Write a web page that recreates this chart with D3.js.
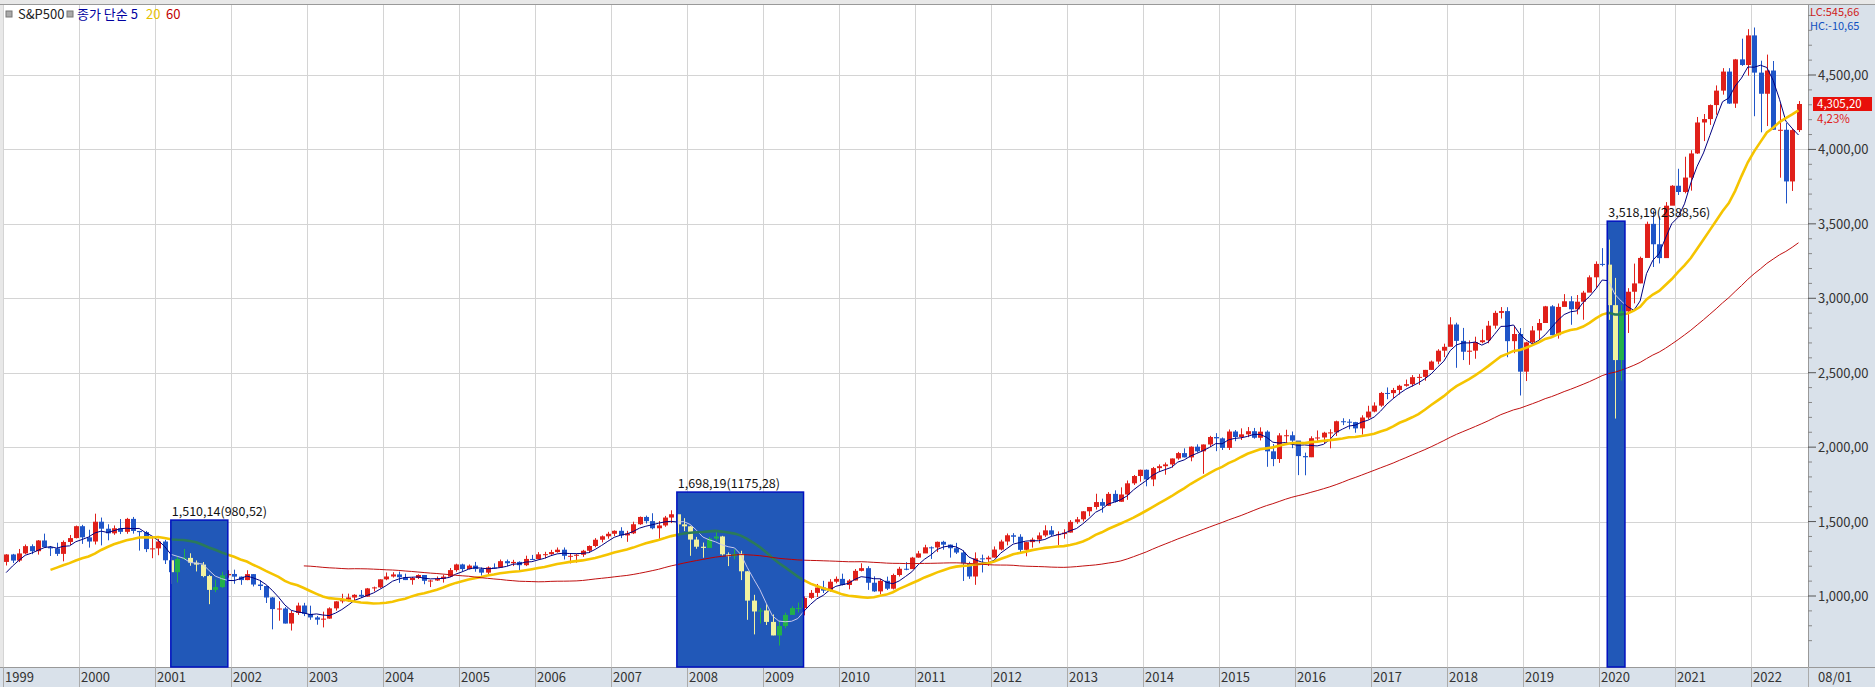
<!DOCTYPE html>
<html><head><meta charset="utf-8">
<script src="https://cdn.jsdelivr.net/npm/d3@7"></script>
<style>body{margin:0;background:#fff}svg{display:block;font-family:"Noto Sans CJK KR","Noto Sans",sans-serif}</style>
</head><body><svg id="c" width="1875" height="687"></svg>
<script>
// monthly S&P500, Jan 1998 .. Aug 2022
const closes1998 = [980,1049,1101,1111,1090,1133,1120,957,1017,1098,1163,1229];
const years = [1999,2000,2001,2002,2003,2004,2005,2006,2007,2008,2009,2010,2011,2012,2013,2014,2015,2016,2017,2018,2019,2020,2021,2022];
const closeByYear = [
[1279,1238,1286,1335,1301,1373,1329,1320,1283,1363,1389,1469],
[1394,1366,1499,1452,1421,1455,1431,1518,1437,1429,1315,1320],
[1366,1240,1160,1249,1256,1224,1211,1134,1041,1060,1139,1148],
[1130,1107,1147,1077,1067,990,912,916,815,886,936,880],
[856,841,848,917,964,975,990,1008,996,1051,1058,1112],
[1131,1145,1126,1107,1121,1141,1102,1104,1115,1130,1174,1212],
[1181,1204,1181,1157,1192,1191,1234,1220,1229,1207,1249,1248],
[1280,1281,1295,1311,1270,1270,1277,1304,1336,1378,1401,1418],
[1438,1407,1421,1482,1531,1503,1455,1474,1527,1549,1481,1468],
[1379,1331,1323,1386,1400,1280,1267,1283,1166,969,896,903],
[826,735,798,873,919,919,987,1021,1057,1036,1096,1115],
[1074,1104,1169,1187,1089,1031,1102,1049,1141,1183,1181,1258],
[1286,1327,1326,1364,1345,1321,1292,1219,1131,1253,1247,1258],
[1312,1366,1408,1398,1310,1362,1379,1407,1441,1412,1416,1426],
[1498,1515,1569,1598,1631,1606,1686,1633,1682,1757,1806,1848],
[1783,1859,1872,1884,1924,1960,1931,2003,1972,2018,2068,2059],
[1995,2105,2068,2086,2107,2063,2104,1972,1920,2079,2080,2044],
[1940,1932,2060,2065,2097,2099,2174,2171,2168,2126,2199,2239],
[2279,2364,2363,2384,2412,2423,2470,2472,2519,2575,2648,2674],
[2824,2714,2641,2648,2705,2718,2816,2902,2914,2712,2760,2507],
[2704,2784,2834,2946,2752,2942,2980,2926,2977,3038,3141,3231],
[3226,2954,2585,2912,3044,3100,3271,3500,3363,3270,3622,3756],
[3714,3811,3973,4181,4204,4298,4395,4523,4308,4605,4567,4766],
[4516,4374,4530,4132,4132,3785,4130,4305.2]];
const highByYear = [
[1281,1283,1316,1346,1347,1376,1419,1336,1358,1373,1410,1473],
[1478,1445,1553,1527,1482,1474,1517,1525,1531,1437,1437,1389],
[1384,1377,1263,1269,1316,1287,1239,1228,1142,1111,1163,1173],
[1177,1131,1173,1147,1106,1070,993,965,925,900,955,954],
[935,866,895,924,965,1015,1016,1012,1040,1054,1063,1112],
[1158,1160,1164,1150,1128,1146,1140,1109,1131,1143,1188,1217],
[1217,1212,1229,1192,1199,1219,1245,1245,1243,1233,1271,1276],
[1295,1297,1310,1326,1326,1284,1282,1310,1340,1389,1407,1431],
[1441,1462,1438,1499,1534,1540,1556,1503,1538,1576,1545,1523],
[1471,1397,1359,1397,1441,1404,1293,1314,1304,1167,1008,919],
[944,876,833,888,931,956,997,1040,1081,1102,1113,1131],
[1150,1113,1181,1220,1200,1132,1115,1130,1150,1196,1227,1263],
[1303,1344,1333,1366,1371,1346,1357,1307,1230,1293,1278,1270],
[1333,1378,1420,1422,1415,1363,1392,1427,1475,1470,1434,1448],
[1510,1531,1570,1598,1687,1654,1698,1710,1730,1776,1813,1849],
[1850,1867,1884,1897,1924,1968,1992,2005,2019,2018,2076,2094],
[2065,2119,2115,2126,2135,2129,2133,2113,2021,2094,2117,2105],
[2038,1963,2073,2112,2103,2120,2178,2194,2188,2170,2214,2278],
[2301,2371,2401,2398,2419,2454,2484,2491,2519,2582,2658,2695],
[2873,2836,2801,2717,2742,2791,2848,2916,2941,2940,2815,2800],
[2708,2813,2861,2949,2954,2965,3028,3014,3022,3050,3154,3248],
[3337,3394,3137,2955,3068,3233,3280,3515,3588,3550,3646,3760],
[3870,3951,3995,4218,4238,4302,4430,4546,4546,4608,4744,4808],
[4819,4596,4637,4594,4308,4178,4141,4325]];
const lowByYear = [
[1205,1222,1228,1281,1281,1278,1325,1269,1269,1233,1343,1387],
[1350,1325,1346,1340,1374,1411,1416,1418,1419,1305,1295,1254],
[1274,1215,1081,1091,1245,1203,1165,1126,945,1026,1054,1123],
[1082,1075,1106,1064,1040,953,776,834,815,768,873,865],
[840,807,789,847,902,951,961,960,988,995,1031,1053],
[1106,1124,1088,1107,1076,1114,1079,1060,1101,1090,1127,1163],
[1164,1180,1163,1137,1146,1188,1191,1201,1201,1169,1201,1243],
[1245,1253,1277,1291,1245,1219,1224,1263,1290,1327,1360,1385],
[1403,1389,1364,1416,1478,1487,1448,1371,1465,1490,1407,1436],
[1270,1317,1257,1322,1373,1272,1201,1247,1107,840,742,815],
[805,736,667,784,880,889,870,979,993,1020,1029,1085],
[1071,1045,1105,1165,1041,1028,1011,1040,1044,1131,1173,1181],
[1257,1294,1249,1295,1311,1258,1282,1101,1115,1075,1158,1202],
[1258,1306,1340,1357,1292,1267,1325,1354,1397,1403,1343,1385],
[1426,1485,1501,1536,1581,1560,1605,1628,1633,1646,1746,1768],
[1737,1738,1834,1815,1862,1915,1931,1905,1964,1821,2001,1973],
[1981,1981,2040,2048,2067,2057,2045,1868,1872,1894,2019,1993],
[1812,1811,1933,2038,2025,1992,2075,2148,2120,2097,2084,2188],
[2234,2271,2322,2329,2353,2406,2407,2418,2446,2520,2557,2605],
[2683,2533,2585,2553,2594,2698,2698,2796,2864,2604,2631,2347],
[2444,2682,2722,2848,2751,2729,2952,2822,2892,2856,3051,3070],
[3215,2855,2192,2447,2767,2966,3101,3284,3210,3234,3280,3633],
[3694,3705,3723,3970,4056,4165,4233,4368,4306,4279,4561,4495],
[4223,4115,4157,4131,3810,3637,3721,4117]];
const yTicks = [1000,1500,2000,2500,3000,3500,4000,4500];
const maPeriods = [5,20,60];
const boxFrom = ["2001-03-16","2007-11-13","2020-02-10"];
const boxTo   = ["2001-12-16","2009-07-13","2020-05-04"];
const boxTop  = [1510.14,1698.19,3518.19];
const boxText = ["1,510,14(980,52)","1,698,19(1175,28)","3,518,19(2388,56)"];

const W=1875,H=687,L=3,R=1808,T=5,B=667;
const svg=d3.select("#c");
const allClose=closes1998.concat(...closeByYear);
const highs=[].concat(...highByYear), lows=[].concat(...lowByYear);
const first=12, n=allClose.length;
const x=d3.scaleLinear().domain([first,first+285]).range([L,R]);
const y=d3.scaleLinear().domain([1000,4500]).range([596,75]);
const monthIdx=s=>{const [yy,mm,dd]=s.split("-").map(Number);return (yy-1998)*12+(mm-1)+(dd-1)/30;};
const bars=d3.range(first,n).map(i=>({i,o:allClose[i-1],c:allClose[i],h:highs[i-first],l:lows[i-first]}));
const mas=maPeriods.map(p=>d3.range(p-1,n).map(i=>({i,v:d3.mean(allClose.slice(i-p+1,i+1))})).filter(d=>d.i>=first));

svg.append("rect").attr("width",W).attr("height",H).attr("fill","#e8e8e8");
svg.append("rect").attr("x",L).attr("y",T).attr("width",R-L).attr("height",B-T).attr("fill","#fff");
svg.append("rect").attr("x",R).attr("y",T).attr("width",W-R).attr("height",B-T).attr("fill","#d9e1ea");
svg.append("rect").attr("x",0).attr("y",B).attr("width",W).attr("height",H-B).attr("fill","#d9e1ea");
const defs=svg.append("defs");
defs.append("clipPath").attr("id","plot").append("rect").attr("x",L).attr("y",T).attr("width",R-L).attr("height",B-T);
svg.append("g").selectAll("line").data(yTicks).join("line").attr("x1",L).attr("x2",R).attr("y1",d=>Math.round(y(d))+.5).attr("y2",d=>Math.round(y(d))+.5).attr("stroke","#d4d4d4");
const yearIdx=years.map((yy,k)=>first+k*12);
svg.append("g").selectAll("line").data(yearIdx).join("line").attr("x1",d=>Math.round(x(d))+.5).attr("x2",d=>Math.round(x(d))+.5).attr("y1",T).attr("y2",B).attr("stroke","#d4d4d4");
const xa=svg.append("g");
xa.append("line").attr("x1",0).attr("x2",W).attr("y1",B+.5).attr("y2",B+.5).attr("stroke","#999");
xa.selectAll("line.d").data(yearIdx.concat([first+285])).join("line").attr("class","d").attr("x1",d=>Math.round(x(d))+.5).attr("x2",d=>Math.round(x(d))+.5).attr("y1",B).attr("y2",H).attr("stroke","#aaa");
xa.selectAll("text").data(years).join("text").attr("x",(d,k)=>x(yearIdx[k])+2).attr("y",682).attr("font-size",13).attr("fill","#333").text(d=>d);
xa.append("text").attr("x",1818).attr("y",682).attr("font-size",13).attr("fill","#333").text("08/01");
svg.append("line").attr("x1",R+.5).attr("x2",R+.5).attr("y1",T).attr("y2",B).attr("stroke","#999");
const ra=svg.append("g");
const minor=d3.range(700,5000,100).filter(v=>v%500!==0);
ra.selectAll("line.m").data(minor).join("line").attr("class","m").attr("x1",R).attr("x2",R+4).attr("y1",d=>y(d)).attr("y2",d=>y(d)).attr("stroke","#888");
ra.selectAll("line.t").data(yTicks).join("line").attr("class","t").attr("x1",R).attr("x2",R+8).attr("y1",d=>y(d)).attr("y2",d=>y(d)).attr("stroke","#555");
ra.selectAll("text").data(yTicks).join("text").attr("x",R+10).attr("y",d=>y(d)+5).attr("font-size",13).attr("fill","#333").text(d=>d3.format(",")(d)+",00");
svg.append("line").attr("x1",0).attr("x2",W).attr("y1",T-.5).attr("y2",T-.5).attr("stroke","#999");

const plot=svg.append("g").attr("clip-path","url(#plot)");
function drawAll(g,alt){
  const line=d3.line().x(d=>x(d.i+.5)).y(d=>y(d.v));
  const cols=alt?["#c8c8ec","#2a7a5a","#c00000"]:["#000080","#f5c400","#c01010"];
  const widths=[1,2.6,1];
  const cg=g.append("g");
  const col=d=>d.c>=d.o?(alt?"#22b04a":"#e0201a"):(alt?"#f2f2a0":"#1f55c8");
  cg.selectAll("line").data(bars).join("line").attr("x1",d=>Math.round(x(d.i+.5))+.5).attr("x2",d=>Math.round(x(d.i+.5))+.5).attr("y1",d=>y(d.h)).attr("y2",d=>y(d.l)).attr("stroke",col);
  cg.selectAll("rect").data(bars).join("rect").attr("x",d=>Math.round(x(d.i+.5))-2).attr("width",5)
    .attr("y",d=>y(Math.max(d.o,d.c))).attr("height",d=>Math.max(1,Math.abs(y(d.o)-y(d.c)))).attr("fill",col);
  [0,1,2].forEach(k=>g.append("path").datum(mas[k]).attr("d",line).attr("fill","none").attr("stroke",cols[k]).attr("stroke-width",widths[k]));
}
drawAll(plot,false);
boxFrom.forEach((f,k)=>{
  const x0=x(monthIdx(f)),x1=x(monthIdx(boxTo[k])),y0=y(boxTop[k]);
  defs.append("clipPath").attr("id","bx"+k).append("rect").attr("x",x0+1).attr("y",y0+1).attr("width",x1-x0-2).attr("height",B-y0-1);
  svg.append("rect").attr("x",x0).attr("y",y0).attr("width",x1-x0).attr("height",B-y0).attr("fill","#2158b8").attr("stroke","#0010c0").attr("stroke-width",1.5);
  drawAll(svg.append("g").attr("clip-path","url(#bx"+k+")"),true);
  svg.append("text").attr("x",x0+1).attr("y",y0-4).attr("font-size",12.5).attr("fill","#111").text(boxText[k]);
});
const lg=svg.append("g").attr("font-size",13);
lg.append("rect").attr("x",6).attr("y",11).attr("width",6).attr("height",6).attr("fill","#aaa").attr("stroke","#777");
lg.append("text").attr("x",18).attr("y",19).attr("fill","#222").text("S&P500");
lg.append("rect").attr("x",67).attr("y",11).attr("width",6).attr("height",6).attr("fill","#aaa").attr("stroke","#777");
lg.append("text").attr("x",77).attr("y",19).attr("fill","#0000a0").text("종가 단순 5");
lg.append("text").attr("x",146).attr("y",19).attr("fill","#e6c000").text("20");
lg.append("text").attr("x",166).attr("y",19).attr("fill","#c00000").text("60");
svg.append("text").attr("x",1810).attr("y",16).attr("font-size",11).attr("fill","#d02020").text("LC:545,66");
svg.append("text").attr("x",1810).attr("y",30).attr("font-size",11).attr("fill","#1050c0").text("HC:-10,65");
const lastC=allClose[n-1];
svg.append("rect").attr("x",1813).attr("y",y(lastC)-7).attr("width",59).attr("height",14).attr("fill","#e8100a");
svg.append("text").attr("x",1817).attr("y",y(lastC)+4).attr("font-size",11.5).attr("fill","#fff").text("4,305,20");
svg.append("text").attr("x",1817).attr("y",y(lastC)+19).attr("font-size",11.5).attr("fill","#e02020").text("4,23%");
</script></body></html>
